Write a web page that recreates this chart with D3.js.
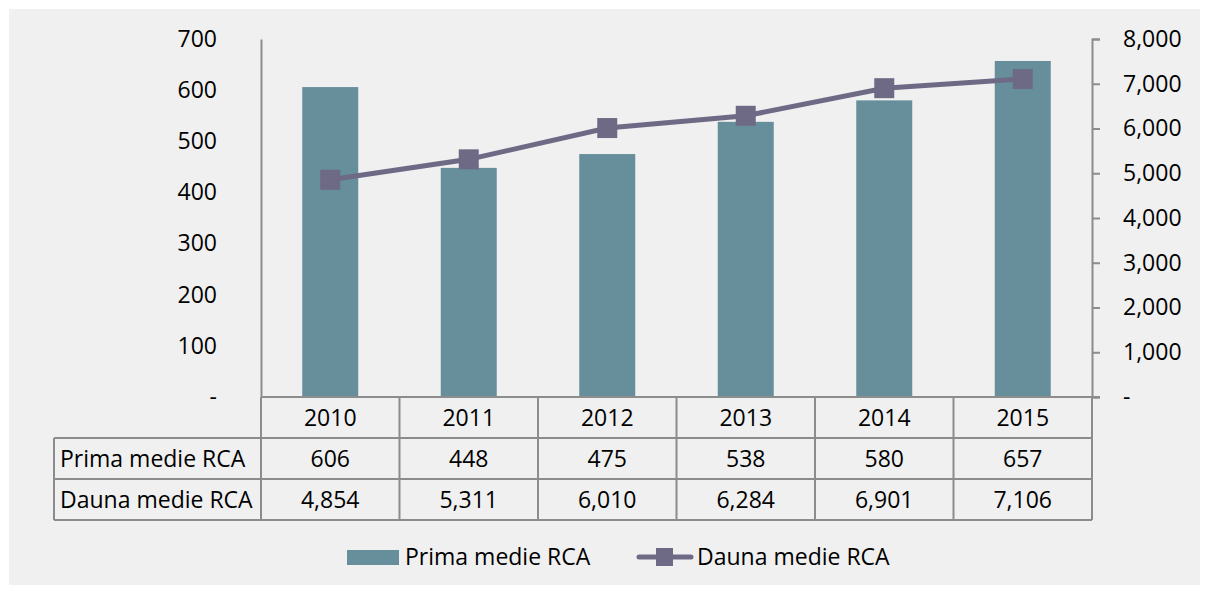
<!DOCTYPE html>
<html>
<head>
<meta charset="utf-8">
<script src="https://cdn.jsdelivr.net/npm/d3@7"></script>
<style>
  body { margin: 0; background: #fff; }
  text { font-family: "Open Sans", sans-serif; fill: #000; }
</style>
</head>
<body>
<div id="chart"></div>
<script>
const width = 1205;
const height = 591;

// Datos
const years = ['2010', '2011', '2012', '2013', '2014', '2015'];
const prima = [606, 448, 475, 538, 580, 657];
const dauna = [4854, 5311, 6010, 6284, 6901, 7106];
const leftTicks = [0, 100, 200, 300, 400, 500, 600, 700];
const rightTicks = [0, 1000, 2000, 3000, 4000, 5000, 6000, 7000, 8000];
const seriesNames = ['Prima medie RCA', 'Dauna medie RCA'];

const barColor = '#668f9b';
const lineColor = '#6e6a85';
const gridColor = '#8c8c8c';

const plotLeft = 261;
const plotRight = 1092;
const plotTop = 39;
const plotBottom = 397;
const rowH = 41;
const tableLeft = 54;
const fontSize = 23;

const svg = d3.select('#chart')
  .append('svg')
  .attr('width', width)
  .attr('height', height);

// Fondo
svg.append('rect')
  .attr('x', 9).attr('y', 9)
  .attr('width', 1191).attr('height', 576)
  .attr('fill', '#f0f0f0');

// Escalas
const xScale = d3.scaleBand()
  .domain(years)
  .range([plotLeft, plotRight]);

const yLeft = d3.scaleLinear()
  .domain([0, 700])
  .range([plotBottom, plotTop]);

const yRight = d3.scaleLinear()
  .domain([0, 8000])
  .range([plotBottom, plotTop]);

const fmt = d3.format(',');
const tickFmt = v => v === 0 ? '-' : fmt(v);

// Eje izquierdo
const axisL = svg.append('g')
  .attr('transform', `translate(${plotLeft},0)`)
  .call(d3.axisLeft(yLeft).tickValues(leftTicks).tickSize(0).tickPadding(44).tickFormat(tickFmt));
axisL.select('.domain').attr('stroke', gridColor).attr('stroke-width', 2);
axisL.selectAll('text').style('font-size', fontSize + 'px').style('font-family', '"Open Sans", sans-serif');

// Eje derecho
const axisR = svg.append('g')
  .attr('transform', `translate(${plotRight},0)`)
  .call(d3.axisRight(yRight).tickValues(rightTicks).tickSize(8).tickPadding(23).tickFormat(tickFmt));
axisR.select('.domain').attr('stroke', gridColor).attr('stroke-width', 2);
axisR.selectAll('line').attr('stroke', gridColor).attr('stroke-width', 2);
axisR.selectAll('text').style('font-size', fontSize + 'px').style('font-family', '"Open Sans", sans-serif');

// Barras
const barW = 56;
svg.selectAll('.bar')
  .data(years)
  .enter()
  .append('rect')
  .attr('class', 'bar')
  .attr('x', d => xScale(d) + xScale.bandwidth() / 2 - barW / 2)
  .attr('y', (d, i) => yLeft(prima[i]))
  .attr('width', barW)
  .attr('height', (d, i) => plotBottom - yLeft(prima[i]))
  .attr('fill', barColor);

// Tabla de datos
const table = svg.append('g').attr('class', 'table');
const tableLines = [];
// horizontales
tableLines.push([plotLeft, plotBottom, plotRight + 8, plotBottom]);
tableLines.push([tableLeft, plotBottom + rowH, plotRight, plotBottom + rowH]);
tableLines.push([tableLeft, plotBottom + 2 * rowH, plotRight, plotBottom + 2 * rowH]);
tableLines.push([tableLeft, plotBottom + 3 * rowH, plotRight, plotBottom + 3 * rowH]);
// verticales
tableLines.push([tableLeft, plotBottom + rowH, tableLeft, plotBottom + 3 * rowH]);
years.forEach(y => {
  tableLines.push([xScale(y), plotBottom, xScale(y), plotBottom + 3 * rowH]);
});
tableLines.push([plotRight, plotBottom, plotRight, plotBottom + 3 * rowH]);

table.selectAll('line')
  .data(tableLines)
  .enter()
  .append('line')
  .attr('x1', d => d[0]).attr('y1', d => d[1])
  .attr('x2', d => d[2]).attr('y2', d => d[3])
  .attr('stroke', gridColor)
  .attr('stroke-width', 2);

const rows = [years, prima.map(fmt), dauna.map(fmt)];
rows.forEach((row, r) => {
  table.selectAll('.cell' + r)
    .data(row)
    .enter()
    .append('text')
    .attr('x', (d, i) => xScale(years[i]) + xScale.bandwidth() / 2)
    .attr('y', plotBottom + r * rowH + rowH / 2)
    .attr('dy', '0.35em')
    .attr('text-anchor', 'middle')
    .style('font-size', fontSize + 'px')
    .text(d => d);
});

table.selectAll('.rowlabel')
  .data(seriesNames)
  .enter()
  .append('text')
  .attr('x', tableLeft + 6)
  .attr('y', (d, i) => plotBottom + (i + 1) * rowH + rowH / 2)
  .attr('dy', '0.35em')
  .style('font-size', fontSize + 'px')
  .text(d => d);

// Línea
const line = d3.line()
  .x((d, i) => xScale(years[i]) + xScale.bandwidth() / 2)
  .y(d => yRight(d));

svg.append('path')
  .datum(dauna)
  .attr('d', line)
  .attr('fill', 'none')
  .attr('stroke', lineColor)
  .attr('stroke-width', 5);

const mk = 20;
svg.selectAll('.marker')
  .data(dauna)
  .enter()
  .append('rect')
  .attr('x', (d, i) => xScale(years[i]) + xScale.bandwidth() / 2 - mk / 2)
  .attr('y', d => yRight(d) - mk / 2)
  .attr('width', mk)
  .attr('height', mk)
  .attr('fill', lineColor);

// Leyenda
const legend = svg.append('g').attr('class', 'legend');
const ly = 557;
legend.append('rect')
  .attr('x', 347).attr('y', ly - 7)
  .attr('width', 52).attr('height', 15)
  .attr('fill', barColor);
legend.append('text')
  .attr('x', 405).attr('y', ly).attr('dy', '0.35em')
  .style('font-size', fontSize + 'px')
  .text(seriesNames[0]);

legend.append('line')
  .attr('x1', 639).attr('x2', 691)
  .attr('y1', ly).attr('y2', ly)
  .attr('stroke', lineColor)
  .attr('stroke-width', 5)
  .attr('stroke-linecap', 'round');
legend.append('rect')
  .attr('x', 656).attr('y', ly - 9)
  .attr('width', 17).attr('height', 18)
  .attr('fill', lineColor);
legend.append('text')
  .attr('x', 697).attr('y', ly).attr('dy', '0.35em')
  .style('font-size', fontSize + 'px')
  .text(seriesNames[1]);
</script>
</body>
</html>
